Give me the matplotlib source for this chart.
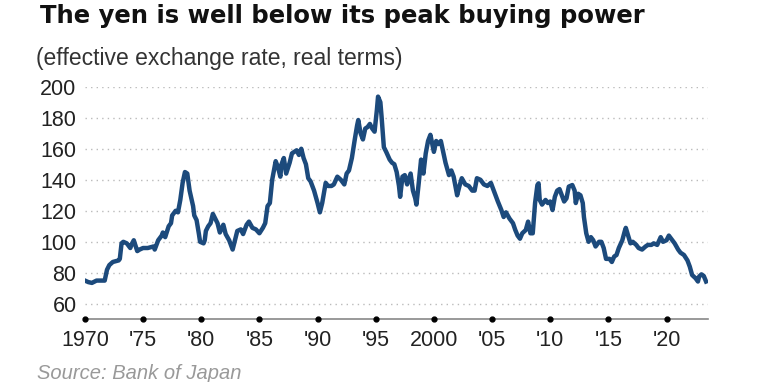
import numpy as np
import matplotlib
matplotlib.use('Agg')
import matplotlib.pyplot as plt

plt.rcParams['font.family'] = ['Liberation Sans', 'DejaVu Sans']

# real effective exchange rate of the yen
years = [1970.0, 1970.3, 1970.6, 1971.0, 1971.4, 1971.7, 1971.9, 1972.1, 1972.4, 1972.9,
         1973.0, 1973.15, 1973.3, 1973.6, 1973.9, 1974.0, 1974.2, 1974.5, 1974.7, 1975.0,
         1975.4, 1975.9, 1976.0, 1976.3, 1976.6, 1976.7, 1976.9, 1977.2, 1977.4, 1977.5,
         1977.8, 1978.0, 1978.2, 1978.4, 1978.6, 1978.8, 1979.0, 1979.3, 1979.4, 1979.6,
         1979.8, 1979.9, 1980.2, 1980.3, 1980.4, 1980.6, 1980.8, 1981.0, 1981.2, 1981.4,
         1981.6, 1981.9, 1982.1, 1982.4, 1982.6, 1982.7, 1982.9, 1983.1, 1983.4, 1983.6,
         1983.9, 1984.1, 1984.4, 1984.7, 1985.0, 1985.3, 1985.5, 1985.7, 1985.9, 1986.1,
         1986.4, 1986.6, 1986.8, 1986.9, 1987.1, 1987.3, 1987.6, 1987.8, 1988.0, 1988.2,
         1988.4, 1988.6, 1988.8, 1989.0, 1989.2, 1989.4, 1989.7, 1990.0, 1990.2, 1990.4,
         1990.7, 1990.9, 1991.2, 1991.4, 1991.7, 1992.0, 1992.3, 1992.5, 1992.7, 1992.95,
         1993.2, 1993.4, 1993.5, 1993.7, 1993.9, 1994.1, 1994.3, 1994.5, 1994.7, 1994.9,
         1995.1, 1995.2, 1995.4, 1995.5, 1995.7, 1995.9, 1996.2, 1996.4, 1996.6, 1996.8,
         1997.0, 1997.1, 1997.3, 1997.5, 1997.7, 1998.0, 1998.2, 1998.4, 1998.5, 1998.7,
         1998.9, 1999.1, 1999.3, 1999.5, 1999.7, 2000.0, 2000.2, 2000.4, 2000.6, 2000.8,
         2001.0, 2001.3, 2001.5, 2001.7, 2002.0, 2002.2, 2002.4, 2002.7, 2003.0, 2003.3,
         2003.5, 2003.7, 2004.0, 2004.3, 2004.6, 2004.9, 2005.2, 2005.5, 2005.8, 2006.0,
         2006.2, 2006.5, 2006.8, 2007.0, 2007.2, 2007.4, 2007.6, 2007.9, 2008.1, 2008.3,
         2008.5, 2008.7, 2008.9, 2009.0, 2009.1, 2009.3, 2009.6, 2009.8, 2010.0, 2010.2,
         2010.4, 2010.6, 2010.8, 2011.0, 2011.2, 2011.4, 2011.6, 2011.9, 2012.1, 2012.2,
         2012.4, 2012.6, 2012.8, 2012.9, 2013.1, 2013.3, 2013.5, 2013.7, 2013.9, 2014.2,
         2014.4, 2014.6, 2014.8, 2015.1, 2015.3, 2015.5, 2015.7, 2015.9, 2016.2, 2016.4,
         2016.5, 2016.7, 2016.9, 2017.1, 2017.4, 2017.6, 2017.9, 2018.2, 2018.4, 2018.7,
         2018.9, 2019.2, 2019.5, 2019.7, 2020.0, 2020.2, 2020.5, 2020.7, 2021.0, 2021.2,
         2021.5, 2021.8, 2022.0, 2022.2, 2022.5, 2022.7, 2022.8, 2023.0, 2023.2, 2023.4]
values = [75, 74, 73.5, 75, 75, 75, 82, 85, 87, 88,
          89, 99, 100, 99, 96, 98, 101, 94, 95, 96,
          96, 97, 95, 101, 104, 106, 103, 110, 112, 117,
          120, 119, 127, 138, 145, 144, 133, 123, 117, 114,
          105, 100, 99, 101, 107, 110, 112, 118, 115, 112,
          106, 111, 105, 101, 97, 95, 101, 107, 108, 105,
          111, 113, 109, 108, 105.5, 109, 112, 123, 125, 140,
          152, 148, 142, 150, 154, 144, 151, 157, 158, 159,
          156, 160, 154, 150, 141, 139, 133, 125, 119, 125,
          138, 136, 136, 137, 142, 140, 137, 144, 146, 154,
          166, 175, 178.5, 170, 166, 173, 174, 176, 173, 171,
          185, 193.6, 190, 181, 161, 158, 153, 151, 150, 145,
          136, 129, 142, 143, 137, 144, 133, 128, 124, 138,
          153, 144, 157, 165, 169, 158, 165, 163, 165, 158,
          151, 143, 146, 142, 130, 136, 141, 137, 136, 133,
          133, 141, 140, 137, 136, 138, 132, 126, 120.5, 116,
          119, 115, 112, 107.6, 104, 102, 105.5, 107.6, 113, 105.5,
          105.5, 125, 136.6, 137.7, 127, 124, 127, 125, 126, 120.5,
          129, 133, 134, 130, 126, 128, 135.6, 136.6, 133, 125,
          131, 130, 125, 116, 105.5, 100, 103, 101, 97, 100,
          100, 96, 89, 89, 87, 90.5, 91.5, 96, 101, 106.6,
          109, 104, 99, 100, 98, 96, 95, 97, 98, 98,
          99, 98, 103, 100, 101, 104, 101, 99, 95, 93,
          91.5, 88, 84, 78.6, 76.5, 74.4, 77.6, 79, 78, 74.4]

xticks = [1970, 1975, 1980, 1985, 1990, 1995, 2000, 2005, 2010, 2015, 2020]
xlabels = ['1970', "'75", "'80", "'85", "'90", "'95", '2000', "'05", "'10", "'15", "'20"]
yticks = [60, 80, 100, 120, 140, 160, 180, 200]

fig = plt.figure(figsize=(7.65, 3.82), dpi=100)
ax = fig.add_axes([0.111, 0.164, 0.815, 0.609])

for y in yticks:
    ax.axhline(y, color='#bbbbbb', lw=1.0, ls=(0, (1, 3)), zorder=1)

ax.plot(years, values, color='#1c4a7c', lw=3.2, solid_joinstyle='round', zorder=3)

# bottom axis line with dots at the ticks
ax.axhline(50, color='#888888', lw=1.2, zorder=2, clip_on=False)
ax.plot(xticks, [50] * len(xticks), 'o', color='black', ms=3.5, clip_on=False, zorder=4)

ax.set_xlim(1970, 2023.6)
ax.set_ylim(50, 200)
ax.set_xticks(xticks)
ax.set_xticklabels(xlabels)
ax.set_yticks(yticks)
ax.tick_params(axis='both', length=0, labelsize=15.5, colors='#222222')
ax.tick_params(axis='x', pad=8)
ax.tick_params(axis='y', pad=6)
for s in ax.spines.values():
    s.set_visible(False)

fig.text(0.052, 0.941, 'The yen is well below its peak buying power', fontsize=17.5,
         family='DejaVu Sans', fontweight='bold', color='#111111', va='baseline')
fig.text(0.047, 0.830, '(effective exchange rate, real terms)', fontsize=16.5,
         color='#333333', va='baseline')
fig.text(0.048, 0.007, 'Source: Bank of Japan', fontsize=14.5, style='italic',
         color='#999999', va='baseline')

fig.savefig('out.png', dpi=100)
